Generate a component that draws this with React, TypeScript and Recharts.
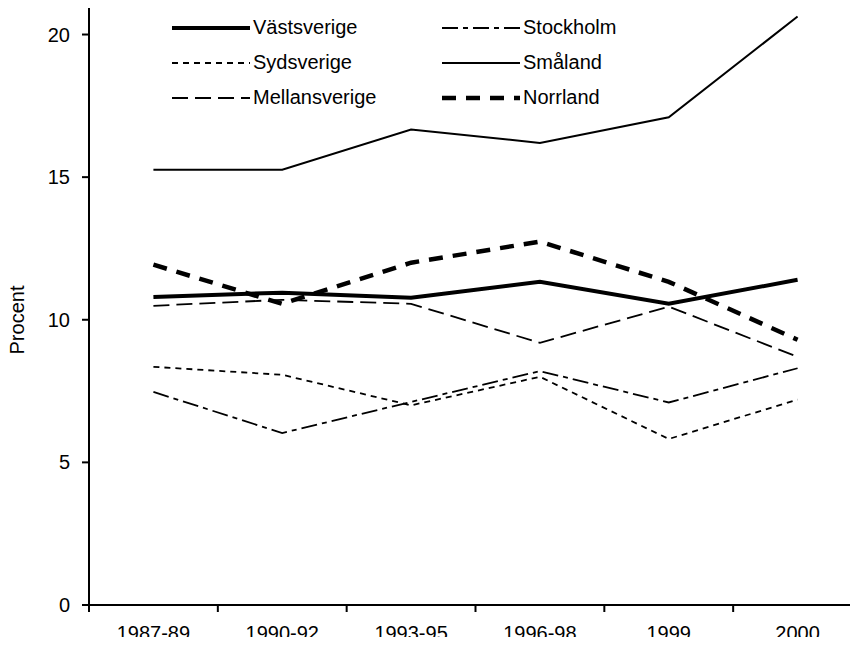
import { LineChart, Line, XAxis, YAxis, Legend } from "recharts";

const CATEGORIES = ["1987-89", "1990-92", "1993-95", "1996-98", "1999", "2000"];
const VASTSVERIGE = [10.8, 10.95, 10.77, 11.33, 10.56, 11.4];
const STOCKHOLM = [7.47, 6.03, 7.12, 8.2, 7.1, 8.3];
const SYDSVERIGE = [8.35, 8.07, 7.0, 8.0, 5.82, 7.2];
const SMALAND = [15.26, 15.26, 16.67, 16.2, 17.1, 20.63];
const MELLANSVERIGE = [10.49, 10.7, 10.56, 9.19, 10.46, 8.7];
const NORRLAND = [11.93, 10.56, 12.0, 12.74, 11.33, 9.3];
const Y_TICKS = [0, 5, 10, 15, 20];

// legend order is row by row, two columns
const SERIES = [
  { key: "Västsverige", values: VASTSVERIGE, width: 4, dash: undefined },
  { key: "Stockholm", values: STOCKHOLM, width: 1.8, dash: "16 5 5 5" },
  { key: "Sydsverige", values: SYDSVERIGE, width: 1.8, dash: "6 5" },
  { key: "Småland", values: SMALAND, width: 2, dash: undefined },
  { key: "Mellansverige", values: MELLANSVERIGE, width: 1.8, dash: "16 7" },
  { key: "Norrland", values: NORRLAND, width: 4.5, dash: "14 10" },
];

const data = CATEGORIES.map((label, i) => {
  const row: Record<string, string | number> = { label };
  SERIES.forEach((s) => (row[s.key] = s.values[i]));
  return row;
});

const W = 870;
const H = 645;
const Y_AXIS_W = 89;
const RIGHT = 8;
const BAND = (W - Y_AXIS_W - RIGHT) / CATEGORIES.length;
const FONT = "'Liberation Sans', Arial, sans-serif";

function XTick(props: any) {
  const { x, y, payload } = props;
  return (
    <g>
      <line x1={x - BAND / 2} x2={x - BAND / 2} y1={y - 7} y2={y} stroke="#000" strokeWidth={2} />
      <text x={x} y={y + 28} textAnchor="middle" fontSize={20} fill="#000" style={{ fontFamily: FONT }}>
        {payload.value}
      </text>
    </g>
  );
}

function LegendBox() {
  return (
    <div
      style={{
        display: "grid",
        gridTemplateColumns: "270px 270px",
        gridAutoRows: "35px",
        fontFamily: FONT,
        fontSize: 20,
        color: "#000",
      }}
    >
      {SERIES.map((s) => (
        <div key={s.key} style={{ display: "flex", alignItems: "center" }}>
          <svg width={81} height={10}>
            <line x1={0} x2={78} y1={5} y2={5} stroke="#000" strokeWidth={s.width} strokeDasharray={s.dash} />
          </svg>
          <span>{s.key}</span>
        </div>
      ))}
    </div>
  );
}

export default function App() {
  return (
    <div style={{ width: 858, height: 645, overflow: "hidden", margin: -8, background: "#fff" }}>
      <LineChart width={W} height={H} data={data} margin={{ top: 6, right: RIGHT, left: 0, bottom: 0 }}>
        <XAxis
          dataKey="label"
          height={40}
          tickSize={7}
          tickMargin={0}
          tickLine={false}
          padding={{ left: BAND / 2, right: BAND / 2 }}
          axisLine={{ stroke: "#000", strokeWidth: 2 }}
          tick={<XTick />}
          interval={0}
        />
        <YAxis
          width={Y_AXIS_W}
          domain={[0, 21]}
          ticks={Y_TICKS}
          tickSize={7}
          tickMargin={12}
          axisLine={{ stroke: "#000", strokeWidth: 2 }}
          tickLine={{ stroke: "#000", strokeWidth: 2 }}
          tick={{ fontSize: 20, fill: "#000", fontFamily: FONT }}
          label={{
            content: () => (
              <text
                transform="translate(24,320) rotate(-90)"
                textAnchor="middle"
                fontSize={20}
                fill="#000"
                style={{ fontFamily: FONT }}
              >
                Procent
              </text>
            ),
          }}
        />
        <Legend
          layout="horizontal"
          verticalAlign="middle"
          align="center"
          content={<LegendBox />}
          wrapperStyle={{ top: 10, left: 172, width: 560 }}
        />
        {SERIES.map((s) => (
          <Line
            key={s.key}
            type="linear"
            dataKey={s.key}
            stroke="#000"
            strokeWidth={s.width}
            strokeDasharray={s.dash}
            dot={false}
            activeDot={false}
            isAnimationActive={false}
          />
        ))}
      </LineChart>
    </div>
  );
}
